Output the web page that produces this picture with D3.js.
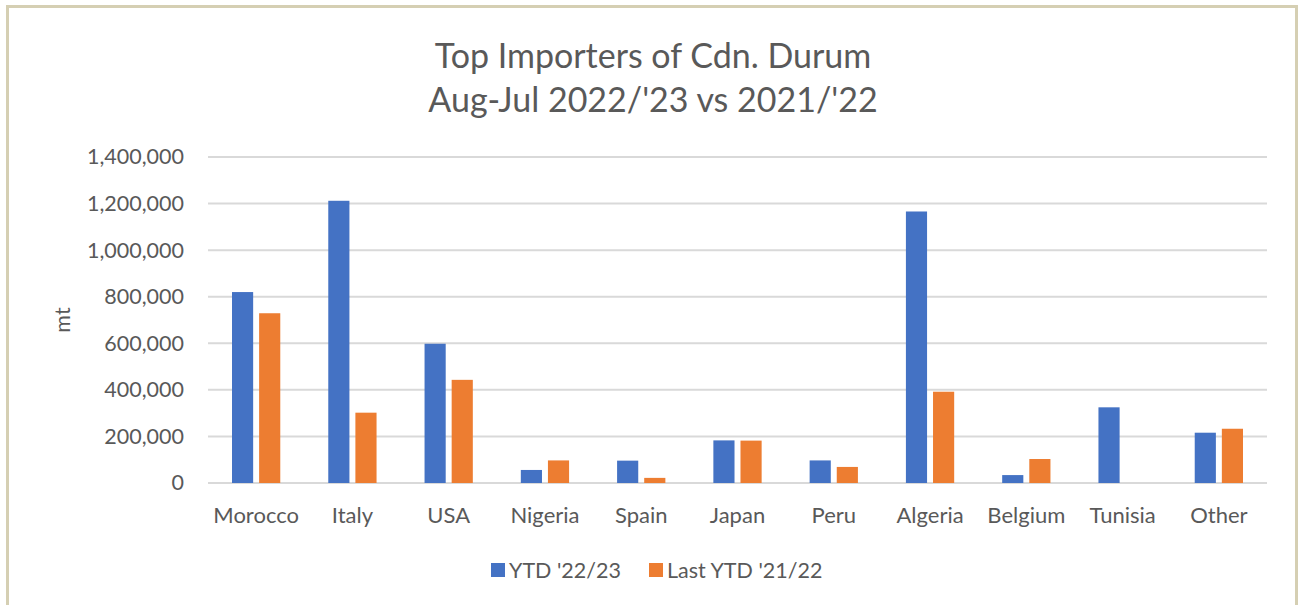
<!DOCTYPE html>
<html>
<head>
<meta charset="utf-8">
<script src="https://cdn.jsdelivr.net/npm/d3@7"></script>
<style>
  body { margin: 0; background: #fff; }
  svg { display: block; font-family: Lato, "Open Sans", sans-serif; }
</style>
</head>
<body>
<svg id="chart" width="1299" height="605"></svg>
<script>
const countries = ["Morocco", "Italy", "USA", "Nigeria", "Spain", "Japan", "Peru", "Algeria", "Belgium", "Tunisia", "Other"];
const ytd2223 = [820000, 1212000, 598000, 56000, 96000, 183000, 97000, 1166000, 34000, 325000, 216000];
const ytd2122 = [729000, 302000, 443000, 97000, 22000, 182000, 69000, 392000, 103000, 0, 233000];
const seriesNames = ["YTD '22/23", "Last YTD '21/22"];
const yTicks = [0, 200000, 400000, 600000, 800000, 1000000, 1200000, 1400000];

const colors = ["#4472C4", "#ED7D31"];
const textColor = "#595959";

const svg = d3.select("#chart");
const margin = { top: 157, right: 32, bottom: 122, left: 208 };
const width = 1299 - margin.left - margin.right;
const height = 605 - margin.top - margin.bottom;

// frame
svg.append("rect")
  .attr("x", 7.5).attr("y", 6.5)
  .attr("width", 1289).attr("height", 620)
  .attr("fill", "#fff")
  .attr("stroke", "#d5cfb3")
  .attr("stroke-width", 3);

// title
const title = svg.append("text")
  .attr("x", 653)
  .attr("text-anchor", "middle")
  .attr("fill", textColor)
  .style("font-size", "34px");
title.append("tspan").attr("x", 653).attr("y", 68).text("Top Importers of Cdn. Durum");
title.append("tspan").attr("x", 653).attr("y", 112).text("Aug-Jul 2022/'23 vs 2021/'22");

const g = svg.append("g").attr("transform", `translate(${margin.left},${margin.top})`);

const x = d3.scaleBand().domain(countries).range([0, width]);
const x1 = d3.scaleBand().domain([0, 1]).range([24, x.bandwidth() - 24]).paddingInner(0.22);
const y = d3.scaleLinear().domain([0, 1400000]).range([height, 0]);

// gridlines
g.append("g")
  .selectAll("line")
  .data(yTicks)
  .join("line")
  .attr("x1", 0).attr("x2", width)
  .attr("y1", d => y(d)).attr("y2", d => y(d))
  .attr("stroke", "#d9d9d9")
  .attr("stroke-width", 2);

// y axis labels
const yAxis = g.append("g")
  .call(d3.axisLeft(y).tickValues(yTicks).tickFormat(d3.format(",")).tickSize(0).tickPadding(24));
yAxis.select(".domain").remove();
yAxis.selectAll("text")
  .attr("fill", textColor)
  .style("font-size", "21.5px")
  .style("font-family", "Lato, 'Open Sans', sans-serif");

// x axis labels
const xAxis = g.append("g")
  .attr("transform", `translate(0,${height})`)
  .call(d3.axisBottom(x).tickSize(0).tickPadding(24));
xAxis.select(".domain").remove();
xAxis.selectAll("text")
  .attr("fill", textColor)
  .style("font-size", "22px")
  .style("font-family", "Lato, 'Open Sans', sans-serif");

// bars
const rows = countries.map((c, i) => ({ country: c, values: [ytd2223[i], ytd2122[i]] }));
g.append("g")
  .selectAll("g")
  .data(rows)
  .join("g")
  .attr("transform", d => `translate(${x(d.country)},0)`)
  .selectAll("rect")
  .data(d => d.values.map((v, s) => ({ s, v })))
  .join("rect")
  .attr("x", d => x1(d.s))
  .attr("width", x1.bandwidth())
  .attr("y", d => y(d.v))
  .attr("height", d => height - y(d.v))
  .attr("fill", d => colors[d.s]);

// y axis title
svg.append("text")
  .attr("transform", "translate(70,320) rotate(-90)")
  .attr("text-anchor", "middle")
  .attr("fill", textColor)
  .style("font-size", "21.5px")
  .text("mt");

// legend
const legendX = [491, 649];
const legend = svg.append("g")
  .selectAll("g")
  .data(seriesNames)
  .join("g")
  .attr("transform", (d, i) => `translate(${legendX[i]},563)`);
legend.append("rect")
  .attr("width", 14).attr("height", 14)
  .attr("fill", (d, i) => colors[i]);
legend.append("text")
  .attr("x", 18).attr("y", 15)
  .attr("fill", textColor)
  .style("font-size", "21.5px")
  .text(d => d);
</script>
</body>
</html>
